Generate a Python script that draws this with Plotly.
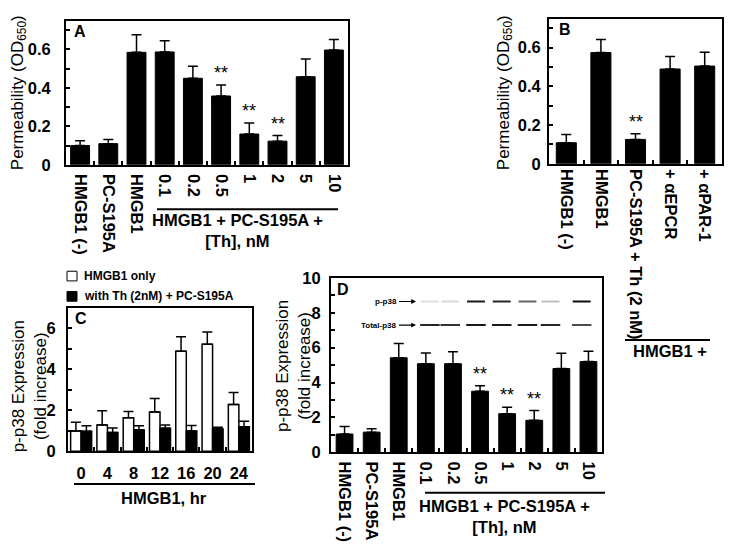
import plotly.graph_objects as go

W, H = 729, 556
FONT = "Liberation Sans, Arial, Helvetica, sans-serif"

# ---------------- data ----------------
# Panel A: permeability
a_cats = ["HMGB1 (-)", "PC-S195A", "HMGB1", "0.1", "0.2", "0.5", "1", "2", "5", "10"]
a_vals = [0.100, 0.110, 0.585, 0.587, 0.450, 0.358, 0.160, 0.123, 0.458, 0.597]
a_errs = [0.025, 0.022, 0.092, 0.058, 0.063, 0.057, 0.057, 0.029, 0.092, 0.055]
a_sig = ["0.5", "1", "2"]

# Panel B: permeability with antibodies
b_cats = ["HMGB1 (-)", "HMGB1", "PC-S195A + Th (2 nM)", "+ αEPCR", "+ αPAR-1"]
b_vals = [0.109, 0.575, 0.126, 0.490, 0.505]
b_errs = [0.042, 0.067, 0.029, 0.065, 0.072]
b_sig = ["PC-S195A + Th (2 nM)"]

# Panel C: time course
c_cats = ["0", "4", "8", "12", "16", "20", "24"]
c_only_vals = [0.99, 1.28, 1.64, 1.92, 4.88, 5.23, 2.28]
c_only_errs = [0.43, 0.70, 0.30, 0.66, 0.71, 0.60, 0.59]
c_th_vals = [0.98, 0.91, 1.04, 1.12, 0.99, 1.09, 1.20]
c_th_errs = [0.26, 0.22, 0.20, 0.16, 0.27, 0.08, 0.26]
c_names = ["HMGB1 only", "with Th (2nM) + PC-S195A"]

# Panel D: p-p38 dose response
d_cats = ["HMGB1 (-)", "PC-S195A", "HMGB1", "0.1", "0.2", "0.5", "1", "2", "5", "10"]
d_vals = [1.04, 1.15, 5.42, 5.08, 5.08, 3.50, 2.21, 1.83, 4.80, 5.20]
d_errs = [0.43, 0.19, 0.82, 0.62, 0.68, 0.31, 0.37, 0.56, 0.88, 0.60]
d_sig = ["0.5", "1", "2"]

# Western blot inset (lane positions in category units, band intensities)
blot_lanes = [3.15, 3.9, 4.85, 5.8, 6.75, 7.6, 8.75]
pp38_bands = [0.12, 0.15, 0.90, 0.85, 0.60, 0.25, 0.95]
total_bands = [0.85, 0.80, 0.90, 0.90, 0.90, 0.85, 0.70]
blot_rows = {"p-p38": 8.65, "Total-p38": 7.3}


# ---------------- helpers ----------------
def px(x):
    return x / W


def py(y):
    return 1 - y / H


def xdom(a, b):
    return [a / W, b / W]


def ydom(top, bottom):
    return [1 - bottom / H, 1 - top / H]


TICKFONT = dict(family=FONT, size=16.5, color="black", weight="bold")


def xaxis(domain, anchor, angle=90, standoff=4):
    return dict(domain=domain, anchor=anchor, type="category",
                showline=True, linewidth=2, linecolor="black", mirror=True,
                ticks="inside", tickson="boundaries", ticklen=4, tickwidth=1.5,
                tickcolor="black", showgrid=False, zeroline=False,
                tickangle=angle, ticklabelstandoff=standoff,
                tickfont=TICKFONT, fixedrange=True)


def yaxis(domain, anchor, rng, dtick, minor, standoff):
    return dict(domain=domain, anchor=anchor, range=rng, tick0=0, dtick=dtick,
                showline=True, linewidth=2, linecolor="black", mirror=True,
                ticks="inside", ticklen=4, tickwidth=1.5, tickcolor="black",
                minor=dict(dtick=minor, tick0=0, ticks="inside", ticklen=4,
                           tickwidth=1.5, tickcolor="black", showgrid=False),
                showgrid=False, zeroline=False, ticklabelstandoff=standoff,
                tickfont=TICKFONT, fixedrange=True)


def err(arr):
    return dict(type="data", array=arr, arrayminus=[0] * len(arr), symmetric=False,
                color="black", thickness=1.5, width=5, visible=True)


def note(text, x, y, size, bold=False, xanchor="center", yanchor="middle", **kw):
    f = dict(family=FONT, size=size, color="black")
    if bold:
        f["weight"] = "bold"
    d = dict(x=px(x), y=py(y), xref="paper", yref="paper", text=text, showarrow=False,
             xanchor=xanchor, yanchor=yanchor, font=f)
    d.update(kw)
    return d


fig = go.Figure()

# Panel A
fig.add_trace(go.Bar(x=a_cats, y=a_vals, error_y=err(a_errs), width=0.67,
                     marker=dict(color="black", line=dict(color="black", width=1)),
                     xaxis="x", yaxis="y", showlegend=False))
# Panel B
fig.add_trace(go.Bar(x=b_cats, y=b_vals, error_y=err(b_errs), width=0.58,
                     marker=dict(color="black", line=dict(color="black", width=1)),
                     xaxis="x2", yaxis="y2", showlegend=False))
# Panel C
fig.add_trace(go.Bar(x=c_cats, y=c_only_vals, error_y=err(c_only_errs), name=c_names[0],
                     marker=dict(color="white", line=dict(color="black", width=1.5)),
                     xaxis="x3", yaxis="y3", showlegend=False))
fig.add_trace(go.Bar(x=c_cats, y=c_th_vals, error_y=err(c_th_errs), name=c_names[1],
                     marker=dict(color="black", line=dict(color="black", width=1.5)),
                     xaxis="x3", yaxis="y3", showlegend=False))
# Panel D
fig.add_trace(go.Bar(x=d_cats, y=d_vals, error_y=err(d_errs), width=0.62,
                     marker=dict(color="black", line=dict(color="black", width=1)),
                     xaxis="x4", yaxis="y4", showlegend=False))

annotations = []
shapes = []

# significance stars
for cats, vals, errs, sig, xr, yr in [
    (a_cats, a_vals, a_errs, a_sig, "x", "y"),
    (b_cats, b_vals, b_errs, b_sig, "x2", "y2"),
    (d_cats, d_vals, d_errs, d_sig, "x4", "y4"),
]:
    for s in sig:
        i = cats.index(s)
        annotations.append(dict(x=i, y=vals[i] + errs[i], xref=xr, yref=yr,
                                text="**", showarrow=False, xanchor="center",
                                yanchor="bottom", yshift=0,
                                font=dict(family=FONT, size=18, color="black")))

# western blot inset
for lane, a in zip(blot_lanes, pp38_bands):
    shapes.append(dict(type="line", xref="x4", yref="y4", x0=lane - 0.33, x1=lane + 0.33,
                       y0=blot_rows["p-p38"], y1=blot_rows["p-p38"],
                       line=dict(color=f"rgba(0,0,0,{a})", width=2)))
for lane, a in zip(blot_lanes, total_bands):
    shapes.append(dict(type="line", xref="x4", yref="y4", x0=lane - 0.36, x1=lane + 0.36,
                       y0=blot_rows["Total-p38"], y1=blot_rows["Total-p38"],
                       line=dict(color=f"rgba(0,0,0,{a})", width=2)))
for label, yv in blot_rows.items():
    annotations.append(dict(x=px(416), y=yv, xref="paper", yref="y4", ax=-17, ay=0,
                            text=label, showarrow=True, arrowhead=2, arrowsize=0.8,
                            arrowwidth=1.2, arrowcolor="black", xanchor="right",
                            yanchor="middle",
                            font=dict(family=FONT, size=8, color="black", weight="bold")))

# panel letters
for letter, x, y in [("A", 72, 12), ("B", 557, 10), ("C", 73, 309), ("D", 335, 279)]:
    annotations.append(note(letter, x, y, 16, bold=True, xanchor="left", yanchor="top"))

# y-axis titles
perm = "Permeability (OD<sub>650</sub>)"
expr = "p-p38 Expression<br>(fold increase)"
for text, x, y in [(perm, 19, 87), (perm, 505, 87), (expr, 29, 390), (expr, 293, 369)]:
    annotations.append(note(text, x, y, 17, textangle=-90))

# group brackets
group_lines = [(157, 338, 207), (74, 255, 491), (425, 605, 500), (625, 710, 342)]
for x0, x1, y in group_lines:
    shapes.append(dict(type="line", xref="paper", yref="paper", x0=px(x0), x1=px(x1),
                       y0=py(y), y1=py(y), line=dict(color="black", width=2)))
group_texts = [("HMGB1 + PC-S195A +<br>[Th], nM", 237, 229),
               ("HMGB1, hr", 164, 505),
               ("HMGB1 + PC-S195A +<br>[Th], nM", 504, 524),
               ("HMGB1 +", 670, 353)]
for text, x, y in group_texts:
    annotations.append(note(text, x, y, 16.5, bold=True, align="center"))

# manual legend for panel C
for (name, fill), y in zip(zip(c_names, ["white", "black"]), [276, 297]):
    shapes.append(dict(type="rect", xref="paper", yref="paper", x0=px(67), x1=px(77),
                       y0=py(y - 5), y1=py(y + 5), fillcolor=fill,
                       line=dict(color="black", width=1)))
    annotations.append(note(name, 82, y, 12, bold=True, xanchor="left"))

fig.update_layout(
    width=W, height=H, margin=dict(l=0, r=0, t=0, b=0),
    paper_bgcolor="white", plot_bgcolor="white",
    barmode="group", bargap=0.2, bargroupgap=0,
    font=dict(family=FONT, color="black"),
    xaxis=xaxis(xdom(66, 348), "y", standoff=4),
    yaxis=yaxis(ydom(12, 161), "x", [0, 0.75], 0.2, 0.1, 10),
    xaxis2=xaxis(xdom(549, 722), "y2", standoff=0),
    yaxis2=yaxis(ydom(10, 160), "x2", [0, 0.75], 0.2, 0.1, 3),
    xaxis3=xaxis(xdom(68, 252), "y3", angle=0, standoff=6),
    yaxis3=yaxis(ydom(309, 457), "x3", [0, 7], 2, 1, 7),
    xaxis4=xaxis(xdom(331, 602), "y4", standoff=4),
    yaxis4=yaxis(ydom(278, 458), "x4", [0, 10], 2, 1, 5),
    annotations=annotations, shapes=shapes,
)

fig.write_html("out.html", config={"displayModeBar": False},
               post_script="document.body.style.margin='0';document.body.style.overflow='hidden';")
